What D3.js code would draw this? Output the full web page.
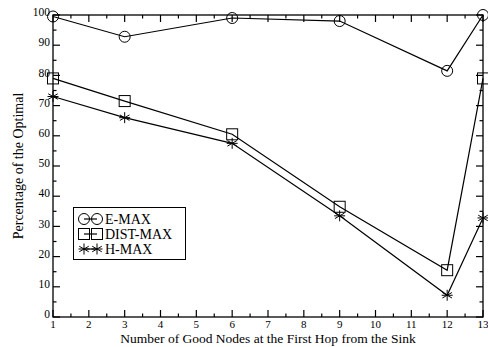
<!DOCTYPE html>
<html>
<head>
<meta charset="utf-8">
<script src="https://cdn.jsdelivr.net/npm/d3@7"></script>
<style>
  body { margin: 0; background: #fff; }
  svg { display: block; }
  text { font-family: "Liberation Serif", "DejaVu Serif", serif; fill: #000; }
</style>
</head>
<body>
<svg id="chart" width="488" height="347"></svg>
<script>
// data
var nodes = [1, 3, 6, 9, 12, 13];
var emax = [99.5, 92.8, 99, 98, 81.5, 100];
var distmax = [79, 71.5, 60.5, 36.5, 15.5, 79];
var hmax = [73, 66, 57.5, 33.5, 7.2, 32.8];
var names = ["E-MAX", "DIST-MAX", "H-MAX"];
var xTicks = d3.range(1, 14);
var yTicks = d3.range(0, 101, 10);

var svg = d3.select("#chart");
var margin = {top: 15, right: 5, bottom: 30, left: 53};
var width = 488, height = 347;
var chartW = width - margin.left - margin.right;  // 430
var chartH = height - margin.top - margin.bottom; // 302

var panel = svg.append("g")
    .attr("transform", "translate(" + margin.left + "," + margin.top + ")");

var xScale = d3.scaleLinear().domain([1, 13]).range([0, chartW]);
var yScale = d3.scaleLinear().domain([0, 100]).range([chartH, 0]);

// frame
panel.append("rect")
    .attr("width", chartW).attr("height", chartH)
    .attr("fill", "none").attr("stroke", "#000").attr("stroke-width", 1.3);

// ticks, inward on all four sides
var xMinor = d3.range(1.5, 13, 1);
var yMinor = d3.range(5, 100, 10);
function tickLines(vals, len, horiz) {
    vals.forEach(function (v) {
        if (horiz) {
            var x = xScale(v);
            panel.append("line").attr("x1", x).attr("x2", x).attr("y1", chartH).attr("y2", chartH - len);
            panel.append("line").attr("x1", x).attr("x2", x).attr("y1", 0).attr("y2", len);
        } else {
            var y = yScale(v);
            panel.append("line").attr("y1", y).attr("y2", y).attr("x1", 0).attr("x2", len);
            panel.append("line").attr("y1", y).attr("y2", y).attr("x1", chartW).attr("x2", chartW - len);
        }
    });
}
tickLines(xTicks, 7, true);
tickLines(xMinor, 3.5, true);
tickLines(yTicks, 7, false);
tickLines(yMinor, 3.5, false);
panel.selectAll("line").attr("stroke", "#000").attr("stroke-width", 1.2);

// tick labels
panel.selectAll(".xlab").data(xTicks).enter().append("text")
    .attr("x", function (d) { return xScale(d); })
    .attr("y", chartH + 11)
    .attr("text-anchor", "middle")
    .style("font-size", "11px")
    .text(function (d) { return d; });

panel.selectAll(".ylab").data(yTicks).enter().append("text")
    .attr("x", -3)
    .attr("y", function (d) { return yScale(d); })
    .attr("dy", "0.1em")
    .attr("text-anchor", "end")
    .style("font-size", "11.5px")
    .text(function (d) { return d; });

// axis titles
panel.append("text")
    .attr("x", chartW / 2)
    .attr("y", chartH + 26)
    .attr("text-anchor", "middle")
    .style("font-size", "13.5px")
    .text("Number of Good Nodes at the First Hop from the Sink");

panel.append("text")
    .attr("transform", "rotate(-90)")
    .attr("x", -chartH / 2)
    .attr("y", -30)
    .attr("text-anchor", "middle")
    .style("font-size", "14px")
    .text("Percentage of the Optimal");

// markers
function drawMarker(g, kind, x, y) {
    if (kind === 0) {
        g.append("circle").attr("cx", x).attr("cy", y).attr("r", 5.5)
            .attr("fill", "none").attr("stroke", "#000").attr("stroke-width", 1);
    } else if (kind === 1) {
        g.append("rect").attr("x", x - 5.5).attr("y", y - 5.5).attr("width", 11).attr("height", 11)
            .attr("fill", "none").attr("stroke", "#000").attr("stroke-width", 1);
    } else {
        var r = 5.5;
        [0, 60, 120].forEach(function (a) {
            var rad = a * Math.PI / 180;
            g.append("line")
                .attr("x1", x - r * Math.sin(rad)).attr("y1", y - r * Math.cos(rad))
                .attr("x2", x + r * Math.sin(rad)).attr("y2", y + r * Math.cos(rad))
                .attr("stroke", "#000").attr("stroke-width", 1);
        });
        g.append("line").attr("x1", x - r).attr("x2", x + r).attr("y1", y).attr("y2", y)
            .attr("stroke", "#000").attr("stroke-width", 1);
    }
}

var line = d3.line()
    .x(function (d) { return xScale(d.n); })
    .y(function (d) { return yScale(d.v); });

var series = [emax, distmax, hmax];
var markers = panel.append("g");
series.forEach(function (vals, k) {
    var pts = nodes.map(function (n, i) { return {n: n, v: vals[i]}; });
    panel.append("path")
        .datum(pts)
        .attr("d", line)
        .attr("fill", "none")
        .attr("stroke", "#000")
        .attr("stroke-width", 1.2);
    pts.forEach(function (p) {
        drawMarker(markers, k, xScale(p.n), yScale(p.v));
    });
});

// legend
var legend = svg.append("g");
legend.append("rect")
    .attr("x", 73.5).attr("y", 207.5).attr("width", 112).attr("height", 52)
    .attr("fill", "#fff").attr("stroke", "#000").attr("stroke-width", 1);
names.forEach(function (name, k) {
    var y = 219 + k * 15;
    legend.append("line").attr("x1", 84).attr("x2", 97).attr("y1", y).attr("y2", y)
        .attr("stroke", "#000").attr("stroke-width", 1.2);
    drawMarker(legend, k, 84, y);
    drawMarker(legend, k, 97, y);
    legend.append("text")
        .attr("x", 105).attr("y", y)
        .attr("dy", "0.35em")
        .style("font-size", "14px")
        .text(name);
});
</script>
</body>
</html>
